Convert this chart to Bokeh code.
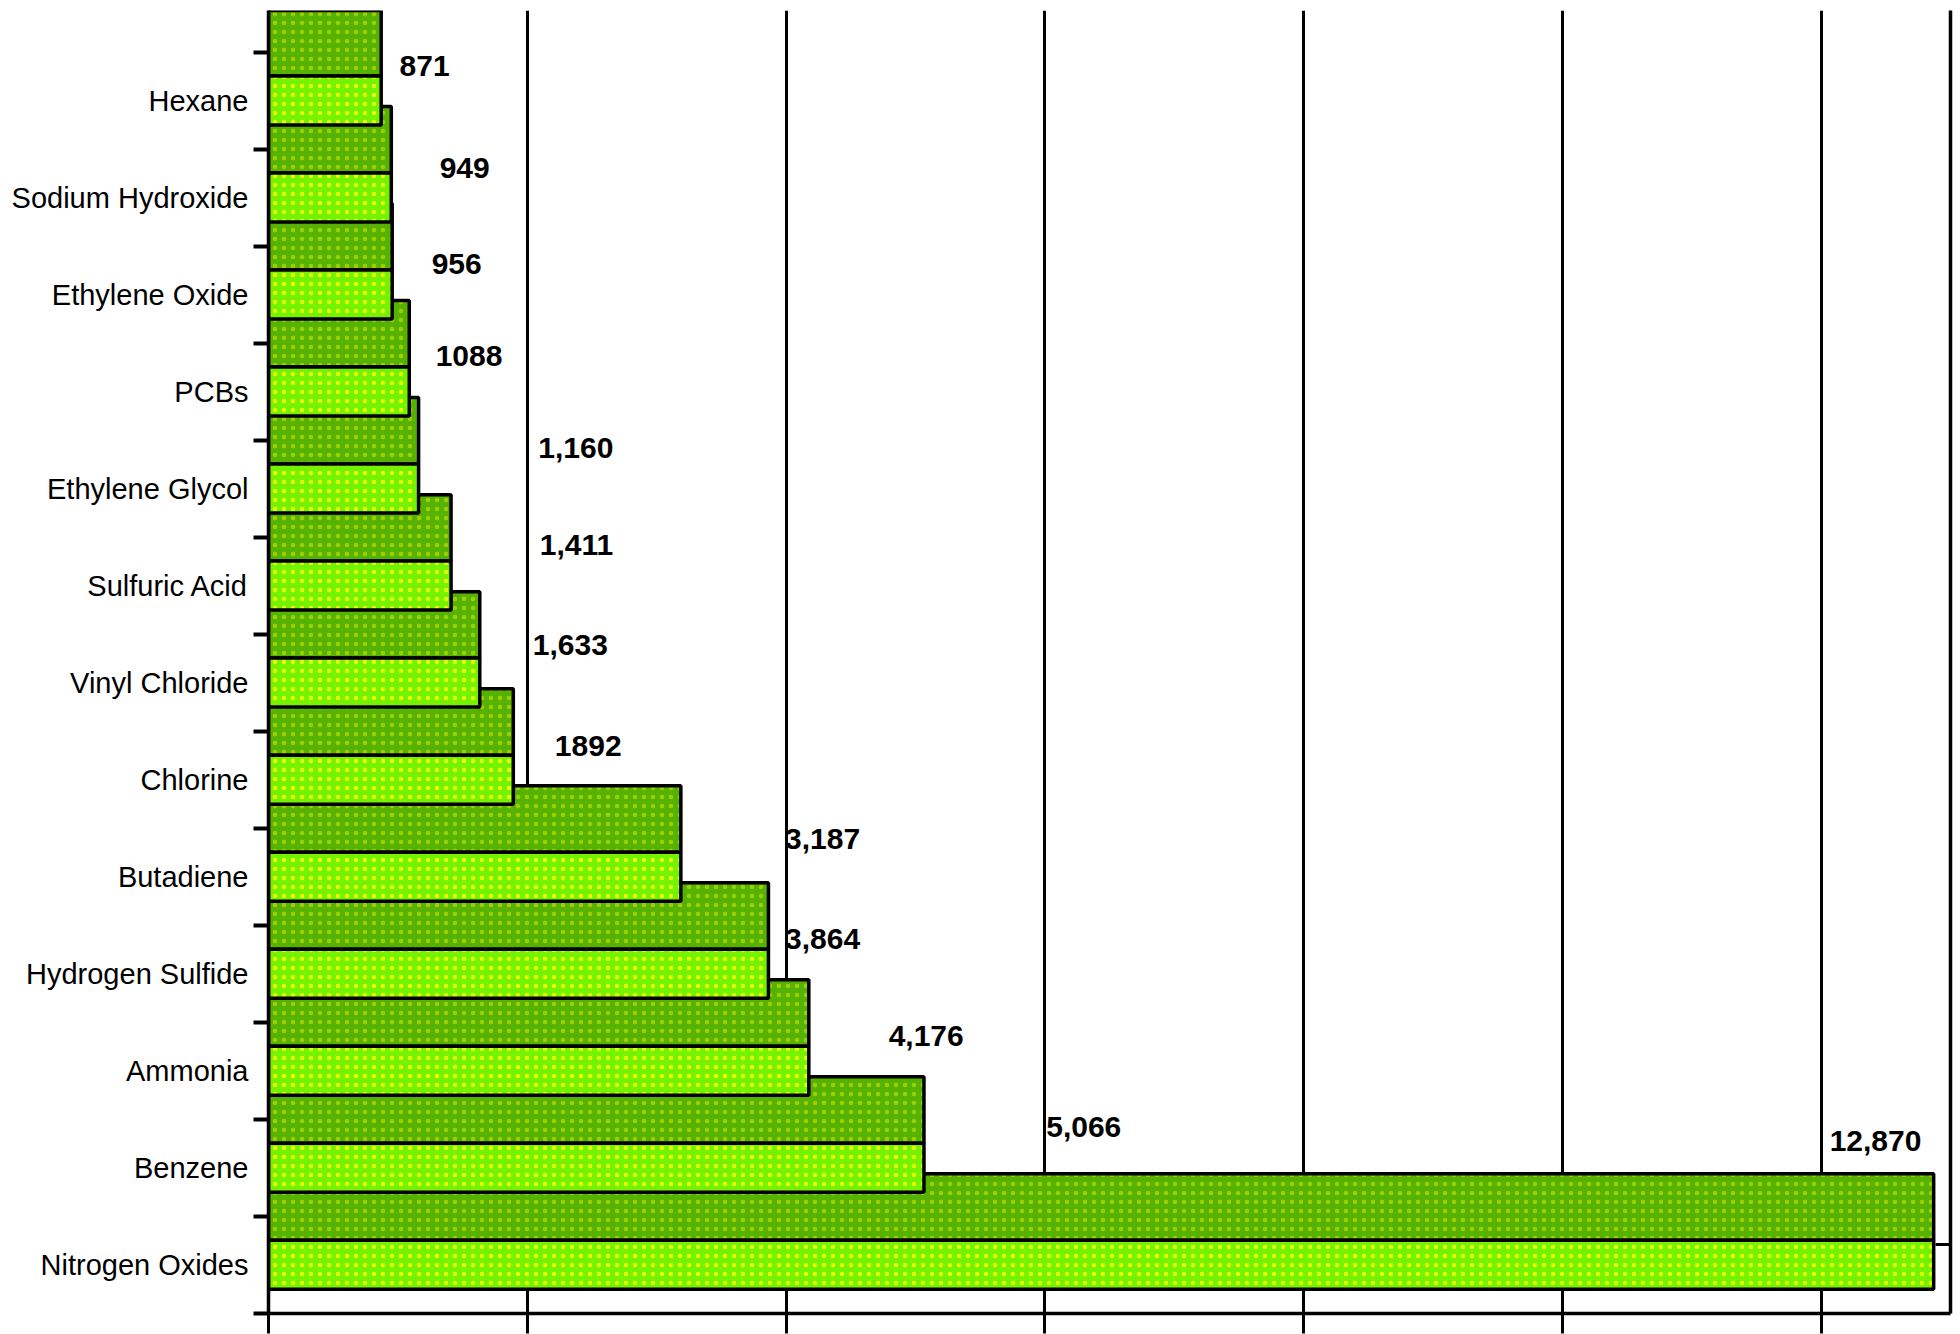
from bokeh.plotting import figure
from bokeh.models import ColumnDataSource, FixedTicker, LinearAxis, Range1d
from bokeh.core.properties import value
from bokeh.embed import file_html
from bokeh.resources import INLINE

# ---- data (bottom to top) ----
categories = ["Nitrogen Oxides", "Benzene", "Ammonia", "Hydrogen Sulfide", "Butadiene",
              "Chlorine", "Vinyl Chloride", "Sulfuric Acid", "Ethylene Glycol", "PCBs",
              "Ethylene Oxide", "Sodium Hydroxide", "Hexane"]
values = [12870, 5066, 4176, 3864, 3187, 1892, 1633, 1411, 1160, 1088, 956, 949, 871]
value_labels = ["12,870", "5,066", "4,176", "3,864", "3,187", "1892", "1,633", "1,411",
                "1,160", "1088", "956", "949", "871"]
x_ticks = [0, 2000, 4000, 6000, 8000, 10000, 12000]

# label placement (annotation layout, data units)
label_x = [12066, 6011, 4793, 3992, 3992, 2213, 2043, 2097, 2085, 1292, 1261, 1323, 1013]
label_dy = [1.28, 0.42, 0.36, 0.36, 0.39, 0.35, 0.39, 0.42, 0.42, 0.37, 0.32, 0.31, 0.36]

n = len(categories)
idx = list(range(n))

# bar geometry in category units
LIGHT_LO, LIGHT_HI = -0.25, 0.255
DARK_LO, DARK_HI = 0.255, 0.94

dark_src = ColumnDataSource(dict(
    y=[i + (DARK_LO + DARK_HI) / 2 for i in idx], right=values))
light_src = ColumnDataSource(dict(
    y=[i + (LIGHT_LO + LIGHT_HI) / 2 for i in idx], right=values))
lab_src = ColumnDataSource(dict(
    x=label_x, y=[i + d for i, d in zip(idx, label_dy)], text=value_labels))

p = figure(width=1960, height=1334, output_backend="svg", toolbar_location=None,
           x_range=Range1d(0, 13000), y_range=Range1d(-0.5, 12.93),
           min_border_left=268, min_border_right=10, min_border_top=10, min_border_bottom=21,
           x_axis_location="below")
p.outline_line_color = None
p.background_fill_color = "white"
p.border_fill_color = "white"

# bars: dark first, light on top
p.hbar(y="y", left=0, right="right", height=DARK_HI - DARK_LO, source=dark_src,
       fill_color="#56B200", line_color="black", line_width=3.5,
       hatch_pattern="dot", hatch_color="#A6D400", hatch_scale=9, hatch_weight=2, hatch_alpha=0.9)
p.hbar(y="y", left=0, right="right", height=LIGHT_HI - LIGHT_LO, source=light_src,
       fill_color="#74F200", line_color="black", line_width=3.5,
       hatch_pattern="dot", hatch_color="#F2FF00", hatch_scale=9, hatch_weight=2, hatch_alpha=0.9)

p.text(x="x", y="y", text="text", source=lab_src,
       text_font=value("Liberation Sans"), text_font_size="30px", text_font_style="bold",
       text_color="black", text_align="left", text_baseline="middle")

# x axis (no labels, ticks crossing below)
xa = p.xaxis[0]
xa.ticker = FixedTicker(ticks=x_ticks)
xa.major_label_overrides = {t: "" for t in x_ticks}
xa.major_label_text_font_size = "1px"
xa.major_label_standoff = 0
xa.major_tick_out = 20
xa.major_tick_in = 0
xa.minor_tick_line_color = None
xa.axis_line_color = "black"
xa.axis_line_width = 3.5
xa.major_tick_line_color = "black"
xa.major_tick_line_width = 3

p.xgrid.ticker = FixedTicker(ticks=x_ticks)
p.xgrid.grid_line_color = "black"
p.xgrid.grid_line_width = 3
p.ygrid.grid_line_color = None

# y axis with category labels at centers, ticks at boundaries
ya = p.yaxis[0]
ya.ticker = FixedTicker(ticks=idx, minor_ticks=[i - 0.5 for i in range(n + 1)])
ya.major_label_overrides = {i: c for i, c in zip(idx, categories)}
ya.major_tick_line_color = None
ya.major_tick_out = 0
ya.major_tick_in = 0
ya.minor_tick_out = 15
ya.minor_tick_in = 0
ya.minor_tick_line_color = "black"
ya.minor_tick_line_width = 4
ya.major_label_standoff = 5
ya.major_label_text_font = "Liberation Sans"
ya.major_label_text_font_size = "29px"
ya.major_label_text_color = "black"
ya.axis_line_color = "black"
ya.axis_line_width = 3.5

# right axis: frame line with a single inward tick
ra = LinearAxis(ticker=FixedTicker(ticks=[0.21]), major_label_overrides={0.21: ""},
                major_label_text_font_size="1px",
                major_label_standoff=0, major_tick_out=0, major_tick_in=15,
                major_tick_line_color="black", major_tick_line_width=3,
                minor_tick_line_color=None, axis_line_color="black", axis_line_width=3.5)
p.add_layout(ra, "right")

open("out.html", "w").write(file_html(p, INLINE))
